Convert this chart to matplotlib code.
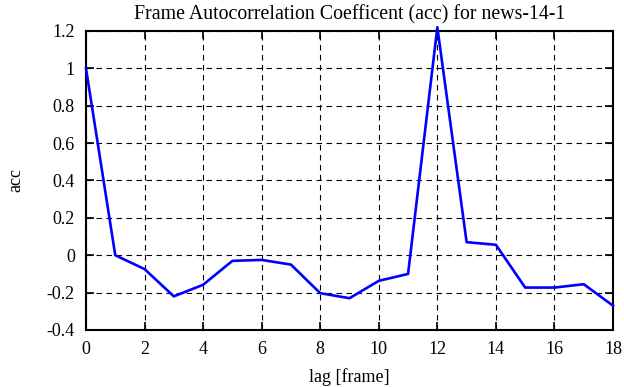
import matplotlib
matplotlib.use("Agg")
import matplotlib.pyplot as plt
from matplotlib.ticker import FormatStrFormatter, MultipleLocator

lags = list(range(19))
acc = [1.0, 0.0, -0.074, -0.22, -0.158, -0.03, -0.025, -0.05, -0.203, -0.23,
       -0.137, -0.1, 1.22, 0.07, 0.056, -0.173, -0.173, -0.155, -0.27]

plt.rcParams['font.family'] = ['Liberation Serif', 'DejaVu Serif']
plt.rcParams['font.size'] = 13

fig = plt.figure(figsize=(6.24, 3.87), dpi=100)
ax = fig.add_axes([0.1378, 0.1473, 0.8446, 0.7726])

ax.plot(lags, acc, color='#0000ff', lw=1.9, clip_on=False, zorder=3)

ax.set_xlim(0, 18)
ax.set_ylim(-0.4, 1.2)
ax.xaxis.set_major_locator(MultipleLocator(2))
ax.yaxis.set_major_locator(MultipleLocator(0.2))
ax.yaxis.set_major_formatter(FormatStrFormatter('%g'))
ax.xaxis.set_major_formatter(FormatStrFormatter('%g'))
ax.tick_params(direction='in', top=True, right=True, length=6, width=1.2)
ax.tick_params(axis='y', pad=8)
ax.tick_params(axis='x', pad=8)
ax.grid(True, color='black', ls=(0, (5, 4)), lw=0.8)
for s in ax.spines.values():
    s.set_linewidth(1.5)

ax.set_title('Frame Autocorrelation Coefficent (acc) for news-14-1',
             fontsize=14.3, pad=8)
ax.set_xlabel('lag [frame]', labelpad=7)
ax.set_ylabel('acc', labelpad=16)

fig.savefig('out.png', dpi=100)
